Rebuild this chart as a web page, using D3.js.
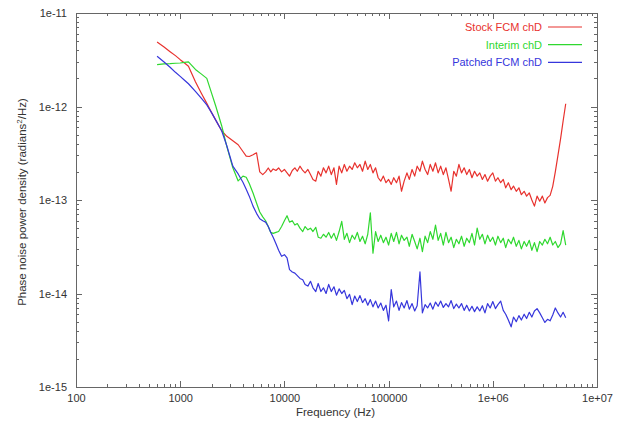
<!DOCTYPE html>
<html>
<head>
<meta charset="utf-8">
<title>Phase noise power density</title>
<style>
  body { margin: 0; background: #fff; }
  svg { display: block; font-family: "Liberation Sans", Arial, Helvetica, sans-serif; }
  .axis path { display: none; }
  .axis line { stroke: #666; shape-rendering: crispEdges; }
  .axis text { fill: #333; font-size: 11px; }
  .frame { fill: none; stroke: #666; shape-rendering: crispEdges; }
  .trace { fill: none; stroke-width: 1.2; stroke-linejoin: round; }
</style>
</head>
<body>
<svg width="621" height="426"></svg>
<script src="https://d3js.org/d3.v7.min.js"></script>
<script>
// frequency grid (Hz) shared by the three traces
var freqHz = [
  600, 700, 800, 900, 1000, 1100, 1200, 1400, 1600, 1800, 2000, 2200, 2500, 2800, 3200, 3600, 4000, 4300, 4600, 5000, 5400, 5800,
  6200, 6600, 7000, 7400, 7800, 8300, 8800, 9400,
  10000, 10600, 11200, 11900, 12600, 13300, 14100, 15000, 15800, 16800,
  17800, 18800, 20000, 21100, 22400, 23700, 25100, 26600, 28200, 29900,
  31600, 33500, 35500, 37600, 39800, 42200, 44700, 47300, 50100, 53100,
  56200, 59600, 63100, 66800, 70800, 75000, 79400, 84100, 89100, 94400,
  100000, 106000, 112000, 119000, 126000, 133000, 141000, 150000, 158000, 168000,
  178000, 188000, 200000, 211000, 224000, 237000, 251000, 266000, 282000, 299000,
  316000, 335000, 355000, 376000, 398000, 422000, 447000, 473000, 501000, 531000,
  562000, 596000, 631000, 668000, 708000, 750000, 794000, 841000, 891000, 944000,
  1.0e6, 1.06e6, 1.12e6, 1.19e6, 1.26e6, 1.33e6, 1.41e6, 1.5e6, 1.58e6, 1.68e6,
  1.78e6, 1.88e6, 2.0e6, 2.11e6, 2.24e6, 2.37e6, 2.51e6, 2.66e6, 2.82e6, 2.99e6,
  3.16e6, 3.35e6, 3.55e6, 3.76e6, 3.98e6, 4.22e6, 4.47e6, 4.73e6, 5.01e6
];

// phase noise (radians^2/Hz)
var stockFCM = [
  4.9e-12, 4.33e-12, 3.86e-12, 3.5e-12, 3.17e-12, 2.92e-12, 2.69e-12, 1.84e-12, 1.38e-12, 1.08e-12, 8.6e-13, 7.1e-13, 5.5e-13, 4.8e-13, 4.3e-13, 3.9e-13, 3.3e-13, 2.95e-13, 2.92e-13, 3.05e-13, 3.2e-13, 2.0e-13,
  1.87e-13, 2.0e-13, 2.2e-13, 2.0e-13, 2.15e-13, 2.07e-13, 2.2e-13, 2.0e-13,
  2.12e-13, 1.95e-13, 1.8e-13, 2.07e-13, 2.21e-13, 2.03e-13, 2.3e-13, 2.07e-13, 1.95e-13, 2.12e-13,
  1.87e-13, 1.66e-13, 1.59e-13, 2.03e-13, 1.8e-13, 2.21e-13, 1.95e-13, 2.3e-13, 1.87e-13, 2.21e-13,
  1.47e-13, 2.3e-13, 1.95e-13, 2.4e-13, 2.03e-13, 2.3e-13, 2.12e-13, 2.5e-13, 2.21e-13, 2.4e-13,
  2.03e-13, 2.6e-13, 2.12e-13, 2.4e-13, 1.95e-13, 2.21e-13, 1.73e-13, 1.59e-13, 1.8e-13, 1.53e-13,
  1.66e-13, 1.47e-13, 1.73e-13, 1.53e-13, 1.8e-13, 1.24e-13, 1.59e-13, 1.95e-13, 1.66e-13, 2.12e-13,
  1.8e-13, 2.3e-13, 2.03e-13, 2.6e-13, 2.12e-13, 1.87e-13, 2.4e-13, 2.03e-13, 2.5e-13, 1.95e-13,
  2.3e-13, 1.87e-13, 2.21e-13, 1.66e-13, 1.24e-13, 2.03e-13, 1.8e-13, 2.4e-13, 1.95e-13, 2.21e-13,
  1.87e-13, 2.12e-13, 1.73e-13, 2.03e-13, 1.8e-13, 1.95e-13, 1.66e-13, 1.87e-13, 1.59e-13, 1.8e-13,
  1.95e-13, 1.59e-13, 1.73e-13, 1.53e-13, 1.66e-13, 1.35e-13, 1.53e-13, 1.29e-13, 1.41e-13, 1.24e-13,
  1.35e-13, 1.14e-13, 1.24e-13, 1.1e-13, 1.19e-13, 1.0e-13, 8.6e-14, 1.1e-13, 9.7e-14, 1.1e-13,
  9.3e-14, 1.06e-13, 1.12e-13, 1.4e-13, 2.0e-13, 3.0e-13, 4.5e-13, 7.0e-13, 1.07e-12
];

var interim = [
  2.81e-12, 2.85e-12, 2.87e-12, 2.9e-12, 2.92e-12, 2.96e-12, 3.0e-12, 2.49e-12, 2.22e-12, 2.0e-12, 1.39e-12, 1.0e-12, 6.23e-13, 3.75e-13, 2.21e-13, 1.6e-13, 1.8e-13, 1.75e-13, 1.5e-13, 1.19e-13, 9.3e-14, 7.45e-14,
  6.6e-14, 6.0e-14, 5.2e-14, 4.5e-14, 4.4e-14, 4.5e-14, 4.6e-14, 5.2e-14,
  6.0e-14, 6.8e-14, 5.8e-14, 6.0e-14, 5.4e-14, 5.6e-14, 5.0e-14, 4.6e-14, 5.2e-14, 4.8e-14,
  5.0e-14, 4.6e-14, 5.1e-14, 4.0e-14, 3.9e-14, 4.3e-14, 4.0e-14, 4.5e-14, 3.9e-14, 4.4e-14,
  3.7e-14, 4.6e-14, 5.9e-14, 3.8e-14, 4.4e-14, 3.5e-14, 4.2e-14, 3.8e-14, 4.5e-14, 3.6e-14,
  4.1e-14, 3.4e-14, 4.3e-14, 7.3e-14, 2.7e-14, 4.6e-14, 3.6e-14, 4.2e-14, 3.5e-14, 4.0e-14,
  3.3e-14, 4.4e-14, 3.6e-14, 4.5e-14, 3.4e-14, 4.2e-14, 3.7e-14, 4.0e-14, 3.2e-14, 4.3e-14,
  3.6e-14, 3.0e-14, 3.9e-14, 2.8e-14, 4.1e-14, 3.5e-14, 4.6e-14, 3.8e-14, 5.4e-14, 3.7e-14,
  4.4e-14, 3.3e-14, 4.5e-14, 3.5e-14, 4.0e-14, 3.1e-14, 3.8e-14, 3.4e-14, 4.1e-14, 3.2e-14,
  3.9e-14, 3.5e-14, 4.4e-14, 3.3e-14, 5.0e-14, 3.8e-14, 4.3e-14, 3.4e-14, 4.2e-14, 3.6e-14,
  4.0e-14, 3.3e-14, 4.1e-14, 3.5e-14, 3.9e-14, 3.1e-14, 3.8e-14, 3.4e-14, 4.0e-14, 3.2e-14,
  3.7e-14, 3.0e-14, 3.6e-14, 3.2e-14, 3.7e-14, 2.9e-14, 3.5e-14, 2.8e-14, 3.6e-14, 3.3e-14,
  3.8e-14, 3.4e-14, 4.0e-14, 3.3e-14, 3.6e-14, 3.1e-14, 3.4e-14, 4.7e-14, 3.3e-14
];

var patched = [
  3.44e-12, 2.99e-12, 2.63e-12, 2.32e-12, 2.1e-12, 1.91e-12, 1.75e-12, 1.45e-12, 1.22e-12, 1.04e-12, 8.6e-13, 7.1e-13, 5.5e-13, 3.8e-13, 2.3e-13, 1.9e-13, 1.55e-13, 1.3e-13, 1.1e-13, 8.6e-14, 7.2e-14, 6.3e-14,
  6.0e-14, 5.8e-14, 5.2e-14, 4.5e-14, 4.0e-14, 3.4e-14, 2.9e-14, 2.5e-14,
  2.6e-14, 2.4e-14, 1.8e-14, 1.7e-14, 1.65e-14, 1.55e-14, 1.45e-14, 1.4e-14, 1.25e-14, 1.2e-14,
  1.35e-14, 1.15e-14, 1.05e-14, 1.28e-14, 1.05e-14, 1.15e-14, 1.0e-14, 1.25e-14, 1.05e-14, 1.18e-14,
  9.6e-15, 1.12e-14, 1.0e-14, 1.08e-14, 8.8e-15, 9.8e-15, 7.6e-15, 9.4e-15, 8.2e-15, 9.5e-15,
  8.0e-15, 8.8e-15, 7.5e-15, 8.6e-15, 7.2e-15, 8.3e-15, 7.0e-15, 7.9e-15, 6.6e-15, 7.5e-15,
  5.1e-15, 1.1e-14, 7.2e-15, 8.3e-15, 6.6e-15, 8.0e-15, 7.0e-15, 8.4e-15, 6.8e-15, 7.8e-15,
  6.5e-15, 7.4e-15, 1.7e-14, 6.2e-15, 7.6e-15, 7.0e-15, 7.9e-15, 6.8e-15, 8.1e-15, 7.3e-15,
  8.3e-15, 7.1e-15, 7.8e-15, 7.2e-15, 8.4e-15, 6.9e-15, 7.7e-15, 7.0e-15, 7.8e-15, 6.6e-15,
  7.5e-15, 6.5e-15, 7.3e-15, 6.4e-15, 7.2e-15, 6.5e-15, 7.4e-15, 6.2e-15, 7.8e-15, 7.0e-15,
  8.2e-15, 6.9e-15, 7.6e-15, 8.3e-15, 6.6e-15, 6.0e-15, 5.2e-15, 4.4e-15, 5.6e-15, 5.0e-15,
  5.8e-15, 5.2e-15, 6.0e-15, 5.4e-15, 6.3e-15, 5.6e-15, 6.5e-15, 6.9e-15, 6.2e-15, 5.5e-15,
  4.9e-15, 5.3e-15, 5.1e-15, 5.9e-15, 7.0e-15, 6.2e-15, 5.6e-15, 6.3e-15, 5.5e-15
];

var seriesNames = ["Stock FCM chD", "Interim chD", "Patched FCM chD"];
var seriesColors = ["#e8322e", "#2fd82f", "#3636dc"];

var xTickValues = [100, 1000, 10000, 100000, 1e6, 1e7];
var xTickLabels = ["100", "1000", "10000", "100000", "1e+06", "1e+07"];
var yTickValues = [1e-15, 1e-14, 1e-13, 1e-12, 1e-11];
var yTickLabels = ["1e-15", "1e-14", "1e-13", "1e-12", "1e-11"];

var svg = d3.select("svg"),
    margin = {top: 13, right: 24, bottom: 39, left: 76},
    width = +svg.attr("width") - margin.left - margin.right,
    height = +svg.attr("height") - margin.top - margin.bottom;

var g = svg.append("g").attr("transform", "translate(" + margin.left + "," + margin.top + ")");

var x = d3.scaleLog().domain([100, 1e7]).range([0, width]),
    y = d3.scaleLog().domain([1e-15, 1e-11]).range([height, 0]);

// minor ticks = every log tick that is not a power of ten
function isMajor(v) { return Math.abs(Math.log10(v) - Math.round(Math.log10(v))) < 1e-6; }
var xMinor = x.ticks().filter(function(d) { return !isMajor(d); });
var yMinor = y.ticks().filter(function(d) { return !isMajor(d); });

// bottom / top
g.append("g").attr("class", "axis")
    .attr("transform", "translate(0," + height + ")")
    .call(d3.axisBottom(x).tickValues(xTickValues).tickSize(-6).tickPadding(7)
      .tickFormat(function(d, i) { return xTickLabels[i]; }));
g.append("g").attr("class", "axis")
    .attr("transform", "translate(0," + height + ")")
    .call(d3.axisBottom(x).tickValues(xMinor).tickSize(-3).tickFormat(""));
g.append("g").attr("class", "axis")
    .call(d3.axisTop(x).tickValues(xTickValues).tickSize(-6).tickFormat(""));
g.append("g").attr("class", "axis")
    .call(d3.axisTop(x).tickValues(xMinor).tickSize(-3).tickFormat(""));

// left / right
g.append("g").attr("class", "axis")
    .call(d3.axisLeft(y).tickValues(yTickValues).tickSize(-6).tickPadding(9)
      .tickFormat(function(d, i) { return yTickLabels[i]; }));
g.append("g").attr("class", "axis")
    .call(d3.axisLeft(y).tickValues(yMinor).tickSize(-3).tickFormat(""));
g.append("g").attr("class", "axis")
    .attr("transform", "translate(" + width + ",0)")
    .call(d3.axisRight(y).tickValues(yTickValues).tickSize(-6).tickFormat(""));
g.append("g").attr("class", "axis")
    .attr("transform", "translate(" + width + ",0)")
    .call(d3.axisRight(y).tickValues(yMinor).tickSize(-3).tickFormat(""));

g.append("rect").attr("class", "frame")
    .attr("x", 0).attr("y", 0).attr("width", width).attr("height", height);

// axis titles
svg.append("text")
    .attr("x", margin.left + width / 2 - 1)
    .attr("y", 416)
    .attr("text-anchor", "middle")
    .attr("font-size", 11.5)
    .attr("fill", "#333")
    .text("Frequency (Hz)");

var yTitle = svg.append("text")
    .attr("transform", "translate(26," + (margin.top + height / 2 + 2) + ") rotate(-90)")
    .attr("text-anchor", "middle")
    .attr("font-size", 11.5)
    .attr("fill", "#333");
yTitle.append("tspan").text("Phase noise power density (radians");
yTitle.append("tspan").attr("baseline-shift", "super").attr("font-size", 8).text("2");
yTitle.append("tspan").text("/Hz)");

// traces
var traces = [stockFCM, interim, patched].map(function(vals, k) {
  return {
    name: seriesNames[k],
    color: seriesColors[k],
    values: freqHz.map(function(f, i) { return {f: f, v: vals[i]}; })
  };
});

var line = d3.line()
    .x(function(d) { return x(d.f); })
    .y(function(d) { return y(d.v); });

g.selectAll(".trace")
    .data(traces)
  .enter().append("path")
    .attr("class", "trace")
    .attr("stroke", function(d) { return d.color; })
    .attr("d", function(d) { return line(d.values); });

// legend
var legend = g.selectAll(".legend")
    .data(traces)
  .enter().append("g")
    .attr("class", "legend")
    .attr("transform", function(d, i) { return "translate(0," + (14 + i * 17.7) + ")"; });

legend.append("text")
    .attr("x", width - 55)
    .attr("dy", "0.35em")
    .attr("text-anchor", "end")
    .attr("font-size", 11)
    .attr("fill", function(d) { return d.color; })
    .text(function(d) { return d.name; });

legend.append("line")
    .attr("x1", width - 49).attr("x2", width - 15)
    .attr("stroke", function(d) { return d.color; })
    .attr("stroke-width", 1.2);
</script>
</body>
</html>
